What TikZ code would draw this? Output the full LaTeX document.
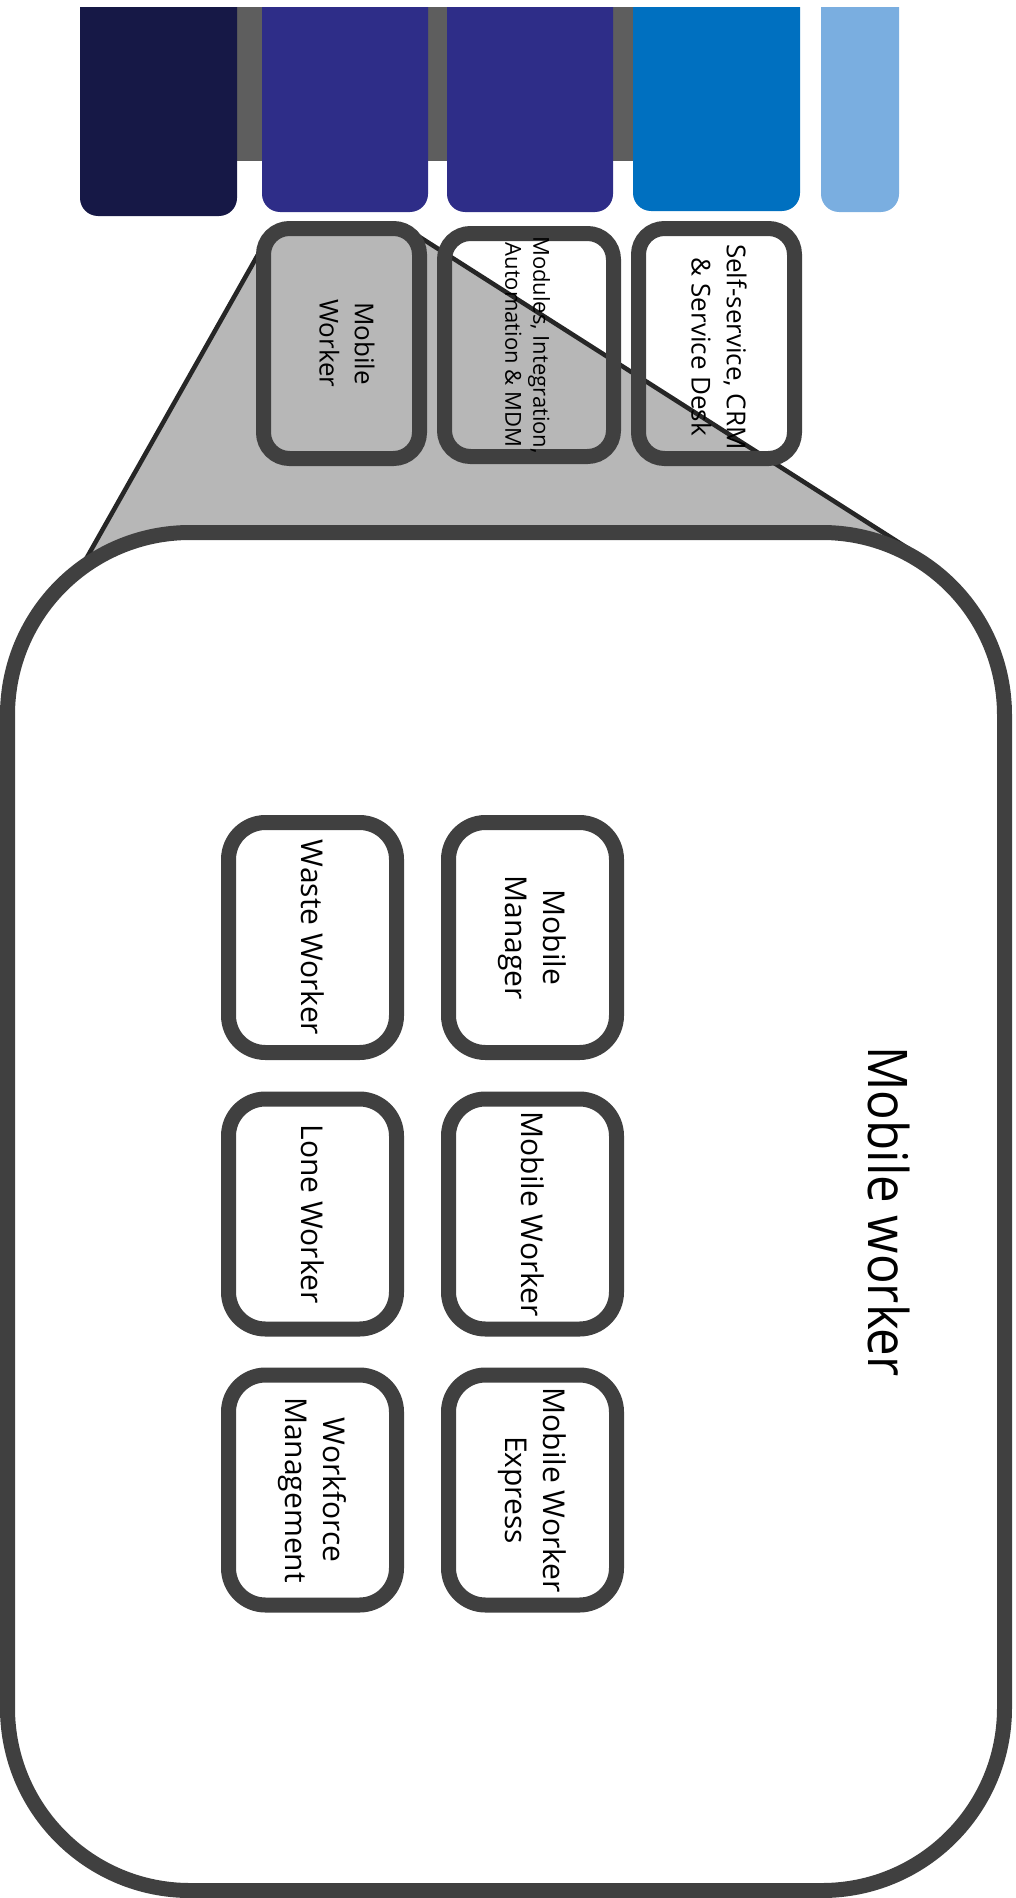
\documentclass[tikz,border=0pt]{standalone}
\usepackage{fontspec}
\setmainfont{Open Sans}
\newfontfamily\titlefont{Open Sans}[FakeStretch=0.9]
\definecolor{barNavy}{HTML}{161846}
\definecolor{barIndigo}{HTML}{2E2D88}
\definecolor{barBlue}{HTML}{0070C0}
\definecolor{barLight}{HTML}{7AAEE0}
\definecolor{bandGray}{HTML}{5E5E5E}
\definecolor{boxGray}{HTML}{B7B7B7}
\definecolor{frameGray}{HTML}{404040}
\definecolor{lineDark}{HTML}{262626}
\begin{document}
\begin{tikzpicture}[x=0.75pt,y=-0.75pt,
  bar/.style={rounded corners=13.5pt},
  topfill/.style={inner sep=0pt, outer sep=0pt, rounded corners=19.5pt},
  topframe/.style={draw=frameGray, line width=11.25pt, inner sep=0pt, outer sep=0pt, rounded corners=19.5pt},
  frame/.style={draw=frameGray, fill=white, line width=11.25pt, rounded corners=27.75pt,
    inner sep=0pt, outer sep=0pt, minimum width=126pt, minimum height=172.5pt},
  lbl/.style={rotate=-90, align=center, text=black, inner sep=0pt,
    font=\fontsize{22.5pt}{28.5pt}\selectfont},
  toplbl/.style={rotate=-90, align=center, text=black, inner sep=0pt,
    font=\fontsize{19.5pt}{26.5pt}\selectfont},
  edge/.style={draw=lineDark, line width=3.4pt}]
\useasboundingbox (0,0) rectangle (1016,1898);

% top colour bars
\begin{scope}
\clip (0,8) rectangle (1016,300);
\fill[bandGray] (230,-20) rectangle (640,161);
\fill[barNavy, bar] (80,-40) rectangle (237,216);
\fill[barIndigo, bar] (262,-40) rectangle (428,212);
\fill[barIndigo, bar] (447,-40) rectangle (613,212);
\fill[barBlue, bar] (633,-40) rectangle (800,211);
\fill[barLight, bar] (821,-40) rectangle (899,212);
\end{scope}

% fills of the second row
\node[topfill, fill=boxGray, minimum width=117pt, minimum height=172.5pt] (Afill) at (341.5,343.5) {};
\node[topfill, fill=white, minimum width=126.75pt, minimum height=167.25pt] (Bfill) at (529,345) {};
\node[topfill, fill=white, minimum width=117pt, minimum height=172.5pt] (Cfill) at (716.5,343.5) {};

% zoom trapezoid
\coordinate (tl) at (264,244);
\coordinate (tr) at (418,236);
\coordinate (br) at (920,556);
\coordinate (bm) at (500,640);
\coordinate (bl) at (77,575);
\fill[boxGray] (tl) -- (tr) -- (br) -- (bm) -- (bl) -- cycle;
\draw[edge] (tl) -- (bl);
\draw[edge] (tr) -- (br);

% big box
\node[draw=frameGray, fill=white, line width=11.25pt, rounded corners=136.9pt,
  inner sep=0pt, outer sep=0pt, minimum width=747.75pt, minimum height=1018.5pt] (big) at (506,1211.5) {};

% frames of the second row
\node[topframe, minimum width=117pt, minimum height=172.5pt] (A) at (341.5,343.5) {};
\node[topframe, minimum width=126.75pt, minimum height=167.25pt] (B) at (529,345) {};
\node[topframe, minimum width=117pt, minimum height=172.5pt] (C) at (716.5,343.5) {};

\node[toplbl] (AT) at (347,343.5) {Mobile\\Worker};
\node[toplbl, font=\fontsize{16.5pt}{21pt}\selectfont] (BT) at (527.5,345) {Modules, Integration,\\Automation \& MDM};
\node[toplbl] (CT) at (719,347) {Self-service, CRM\\\& Service Desk};

% title
\node[rotate=-90, inner sep=0pt, text=black, font=\titlefont\fontsize{41pt}{49pt}\selectfont] (title) at (889,1211.5) {Mobile worker};

% inner boxes
\node[frame] (waste) at (312.5,937.5) {};
\node[frame] (mgr) at (532.5,937.5) {};
\node[frame] (lone) at (312.5,1214) {};
\node[frame] (mw) at (532.5,1214) {};
\node[frame] (wfm) at (312.5,1490) {};
\node[frame] (mwe) at (532.5,1490) {};

\node[lbl] (wasteT) at (waste) {Waste Worker};
\node[lbl] (mgrT) at (mgr) {Mobile\\Manager};
\node[lbl] (loneT) at (lone) {Lone Worker};
\node[lbl] (mwT) at (mw) {Mobile Worker};
\node[lbl] (wfmT) at (wfm) {Workforce\\Management};
\node[lbl] (mweT) at (mwe) {Mobile Worker\\Express};
\end{tikzpicture}
\end{document}
